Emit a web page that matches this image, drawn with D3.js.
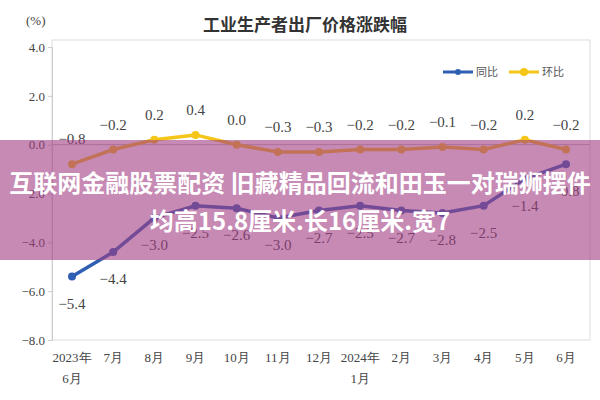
<!DOCTYPE html>
<meta charset="utf-8">
<body style="margin:0;background:#fff">
<script src="https://d3js.org/d3.v7.min.js"></script>
<svg id="chart" width="600" height="400"></svg>
<script>
// categories and series
var months = ["2023年|6月","7月","8月","9月","10月","11月","12月","2024年|1月","2月","3月","4月","5月","6月"];
var tongbi = [-5.4,-4.4,-3.0,-2.5,-2.6,-3.0,-2.7,-2.5,-2.7,-2.8,-2.5,-1.4,-0.8];
var huanbi = [-0.8,-0.2,0.2,0.4,0.0,-0.3,-0.3,-0.2,-0.2,-0.1,-0.2,0.2,-0.2];
var yTicks = [4,2,0,-2,-4,-6,-8];

var svg = d3.select("#chart");
var serif = "'Liberation Serif','DejaVu Serif',serif";
var cjk = "'Noto Sans CJK SC',sans-serif";

var x = d3.scalePoint().domain(d3.range(months.length)).range([72, 566]);
var y = d3.scaleLinear().domain([-8, 4]).range([340, 47]);

// frame
svg.append("rect").attr("x", 52).attr("y", 40).attr("width", 538).attr("height", 300)
  .attr("fill", "none").attr("stroke", "#ddd");
svg.append("line").attr("x1", 52).attr("x2", 590).attr("y1", y(0)).attr("y2", y(0))
  .attr("stroke", "#bbb");

svg.append("text").attr("x", 305).attr("y", 31).attr("text-anchor", "middle")
  .attr("font-family", cjk).attr("font-weight", "bold").attr("font-size", 17)
  .attr("fill", "#333").text("工业生产者出厂价格涨跌幅");
svg.append("text").attr("x", 26).attr("y", 25).attr("font-family", serif)
  .attr("font-size", 13).attr("fill", "#444").text("(%)");

var yAxis = svg.append("g").attr("transform", "translate(52,0)")
  .call(d3.axisLeft(y).tickValues(yTicks).tickFormat(d3.format(".1f")).tickSize(4));
yAxis.select(".domain").attr("stroke", "#ccc");
yAxis.selectAll("line").attr("stroke", "#ccc");
yAxis.selectAll("text").attr("font-family", serif).attr("font-size", 13).attr("fill", "#444");

var xg = svg.append("g");
months.forEach(function (m, i) {
  var parts = m.split("|");
  var t = xg.append("text").attr("x", x(i)).attr("y", 362).attr("text-anchor", "middle")
    .attr("font-family", serif).attr("font-size", 13).attr("fill", "#444");
  parts.forEach(function (p, j) {
    t.append("tspan").attr("x", x(i)).attr("dy", j ? 21 : 0).text(p);
  });
});

var line = d3.line().x(function (d, i) { return x(i); }).y(function (d) { return y(d); });

function series(data, color, labelDy) {
  svg.append("path").datum(data).attr("d", line).attr("fill", "none")
    .attr("stroke", color).attr("stroke-width", 3.5);
  svg.selectAll(null).data(data).enter().append("circle")
    .attr("cx", function (d, i) { return x(i); }).attr("cy", function (d) { return y(d); })
    .attr("r", 4).attr("fill", color);
  svg.selectAll(null).data(data).enter().append("text")
    .attr("x", function (d, i) { return x(i); }).attr("y", function (d) { return y(d) + labelDy; })
    .attr("text-anchor", "middle").attr("font-family", serif).attr("font-size", 15)
    .attr("fill", "#444").text(function (d) { return d3.format(".1f")(d); });
}
series(huanbi, "#f5c518", -20);
series(tongbi, "#2f5fb3", 32);

// legend
var lg = svg.append("g").attr("transform", "translate(443,72)");
lg.append("line").attr("x1", 0).attr("x2", 30).attr("stroke", "#2f5fb3").attr("stroke-width", 3);
lg.append("circle").attr("cx", 15).attr("r", 3).attr("fill", "#2f5fb3");
lg.append("text").attr("x", 33).attr("y", 4).attr("font-family", cjk).attr("font-size", 11).attr("fill", "#555").text("同比");
lg.append("line").attr("x1", 66).attr("x2", 96).attr("stroke", "#f5c518").attr("stroke-width", 3);
lg.append("circle").attr("cx", 81).attr("r", 4).attr("fill", "#f5c518");
lg.append("text").attr("x", 99).attr("y", 4).attr("font-family", cjk).attr("font-size", 11).attr("fill", "#555").text("环比");

// overlay banner
svg.append("rect").attr("x", 0).attr("y", 140).attr("width", 600).attr("height", 120)
  .attr("fill", "rgba(160,60,130,0.6)");
svg.append("text").attr("x", 300).attr("y", 192).attr("text-anchor", "middle")
  .attr("font-family", cjk).attr("font-weight", "bold").attr("font-size", 24).attr("fill", "#fff")
  .text("互联网金融股票配资 旧藏精品回流和田玉一对瑞狮摆件");
svg.append("text").attr("x", 300).attr("y", 230).attr("text-anchor", "middle")
  .attr("font-family", cjk).attr("font-weight", "bold").attr("font-size", 24).attr("fill", "#fff")
  .text("均高15.8厘米.长16厘米.宽7");
</script>
</body>
